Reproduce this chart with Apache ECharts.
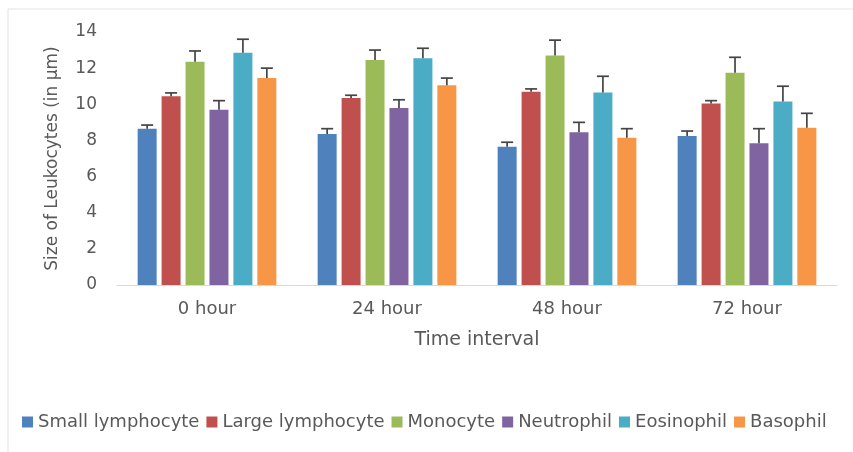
<!DOCTYPE html>
<html>
<head>
<meta charset="utf-8">
<script src="https://cdn.jsdelivr.net/npm/echarts@6/dist/echarts.min.js"></script>
<style>
html,body{margin:0;padding:0;background:#fff;}
#chart{width:853px;height:452px;}
</style>
</head>
<body>
<div id="chart"></div>
<script>
const categories = ['0 hour', '24 hour', '48 hour', '72 hour'];
const seriesNames = ['Small lymphocyte', 'Large lymphocyte', 'Monocyte', 'Neutrophil', 'Eosinophil', 'Basophil'];
const smallLymphocyte = [8.65, 8.35, 7.65, 8.25];
const largeLymphocyte = [10.45, 10.35, 10.7, 10.05];
const monocyte = [12.35, 12.45, 12.7, 11.75];
const neutrophil = [9.7, 9.8, 8.45, 7.85];
const eosinophil = [12.85, 12.55, 10.65, 10.15];
const basophil = [11.45, 11.05, 8.15, 8.7];
const smallLymphocyteErr = [0.2, 0.3, 0.25, 0.27];
const largeLymphocyteErr = [0.18, 0.15, 0.15, 0.15];
const monocyteErr = [0.6, 0.55, 0.85, 0.85];
const neutrophilErr = [0.5, 0.45, 0.55, 0.8];
const eosinophilErr = [0.75, 0.55, 0.9, 0.85];
const basophilErr = [0.55, 0.4, 0.5, 0.8];
const yTicks = [0, 2, 4, 6, 8, 10, 12, 14];

const values = [smallLymphocyte, largeLymphocyte, monocyte, neutrophil, eosinophil, basophil];
const errors = [smallLymphocyteErr, largeLymphocyteErr, monocyteErr, neutrophilErr, eosinophilErr, basophilErr];
const colors = ['#4F81BD', '#C0504D', '#9BBB59', '#8064A2', '#4BACC6', '#F79646'];
const FONT = 'DejaVu Sans';
const TXT = '#595959';
const BAR_W = 19;
const BAR_GAP = 0.26;
const STEP = BAR_W * (1 + BAR_GAP);
const n = seriesNames.length;

const series = [];
seriesNames.forEach((name, k) => {
  series.push({
    name: name,
    type: 'bar',
    barWidth: BAR_W,
    barGap: (BAR_GAP * 100) + '%',
    itemStyle: { color: colors[k] },
    data: values[k]
  });
});
seriesNames.forEach((name, k) => {
  series.push({
    type: 'custom',
    silent: true,
    z: 5,
    data: categories.map((c, i) => [i, values[k][i], values[k][i] + errors[k][i]]),
    encode: { x: 0, y: [1, 2] },
    renderItem: function (params, api) {
      const i = api.value(0);
      const base = api.coord([i, api.value(1)]);
      const top = api.coord([i, api.value(2)]);
      const x = base[0] + (k - (n - 1) / 2) * STEP;
      const half = 6;
      const st = { stroke: '#444444', lineWidth: 1.7 };
      return {
        type: 'group',
        children: [
          { type: 'line', shape: { x1: x, y1: base[1], x2: x, y2: top[1] }, style: st },
          { type: 'line', shape: { x1: x - half, y1: top[1], x2: x + half, y2: top[1] }, style: st }
        ]
      };
    }
  });
});

const chart = echarts.init(document.getElementById('chart'), null, { renderer: 'canvas' });
chart.setOption({
  animation: false,
  backgroundColor: '#fff',
  textStyle: { fontFamily: FONT },
  graphic: [{
    type: 'rect',
    shape: { x: 8, y: 9, width: 900, height: 480 },
    style: { fill: 'none', stroke: '#e3e3e3', lineWidth: 1 },
    silent: true
  }],
  grid: { left: 117, right: 16, top: 32, bottom: 167, containLabel: false },
  legend: {
    data: seriesNames,
    left: 17,
    top: 408,
    width: 1400,
    itemWidth: 11,
    itemHeight: 11,
    itemGap: 7,
    icon: 'rect',
    textStyle: { fontFamily: FONT, fontSize: 18, color: TXT }
  },
  xAxis: {
    type: 'category',
    data: categories,
    name: 'Time interval',
    nameLocation: 'middle',
    nameGap: 46,
    nameTextStyle: { fontFamily: FONT, fontSize: 19, color: TXT },
    axisLine: { lineStyle: { color: '#d9d9d9', width: 1 } },
    axisTick: { show: false },
    axisLabel: { fontFamily: FONT, fontSize: 18, color: TXT, margin: 15 }
  },
  yAxis: {
    type: 'value',
    min: yTicks[0],
    max: yTicks[yTicks.length - 1],
    interval: yTicks[1] - yTicks[0],
    name: 'Size of Leukocytes (in μm)',
    nameLocation: 'middle',
    nameGap: 56,
    nameTextStyle: { fontFamily: FONT, fontSize: 17, color: TXT },
    axisLine: { show: false },
    axisTick: { show: false },
    splitLine: { show: false },
    axisLabel: { fontFamily: FONT, fontSize: 17, color: TXT, margin: 20 }
  },
  series: series
});
</script>
</body>
</html>
